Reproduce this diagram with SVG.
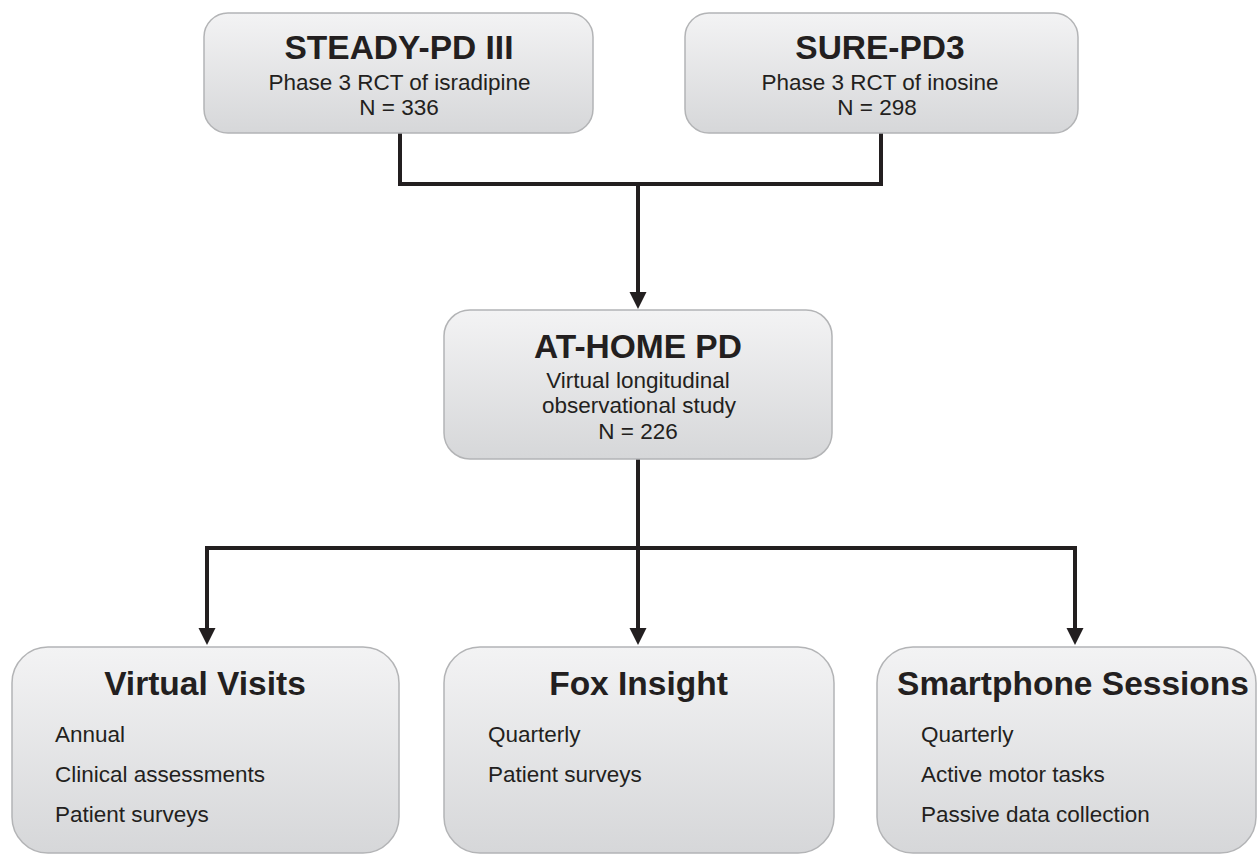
<svg xmlns="http://www.w3.org/2000/svg" width="1257" height="854" viewBox="0 0 1257 854">
<defs>
<linearGradient id="g" x1="0" y1="0" x2="0" y2="1">
<stop offset="0" stop-color="#f3f3f4"/>
<stop offset="1" stop-color="#d6d7d9"/>
</linearGradient>
<marker id="ah" markerUnits="userSpaceOnUse" markerWidth="18" markerHeight="18" refX="2" refY="8.5" orient="auto">
<path d="M0,0 L17,8.5 L0,17 z" fill="#231f20"/>
</marker>
</defs>
<style>
.box{fill:url(#g);stroke:#b3b4b6;stroke-width:1.5}
.t{font-family:"Liberation Sans",Arial,sans-serif;font-weight:bold;font-size:33.5px;fill:#231f20;text-anchor:middle}
.s{font-family:"Liberation Sans",Arial,sans-serif;font-size:22.5px;fill:#231f20;text-anchor:middle}
.i{font-family:"Liberation Sans",Arial,sans-serif;font-size:22.5px;fill:#231f20}
.c{fill:none;stroke:#231f20;stroke-width:4;stroke-linejoin:miter}
</style>
<rect width="1257" height="854" fill="#ffffff"/>
<g id="connectors">
<path class="c" d="M400,133 V184 H881 V133"/>
<path class="c" d="M638,184 V294" marker-end="url(#ah)"/>
<path class="c" d="M638,459 V548"/>
<path class="c" d="M207,548 H1075"/>
<path class="c" d="M207,546 V630" marker-end="url(#ah)"/>
<path class="c" d="M638,546 V630" marker-end="url(#ah)"/>
<path class="c" d="M1075,546 V630" marker-end="url(#ah)"/>
</g>
<g id="steady">
<rect class="box" x="204" y="13" width="389" height="120" rx="24"/>
<text class="t" x="399" y="59">STEADY-PD III</text>
<text class="s" x="399.5" y="90">Phase 3 RCT of isradipine</text>
<text class="s" x="399" y="115">N = 336</text>
</g>
<g id="sure">
<rect class="box" x="685" y="13" width="393" height="120" rx="24"/>
<text class="t" x="880" y="59">SURE-PD3</text>
<text class="s" x="880" y="90">Phase 3 RCT of inosine</text>
<text class="s" x="877" y="115">N = 298</text>
</g>
<g id="athome">
<rect class="box" x="444" y="310" width="388" height="149" rx="26"/>
<text class="t" x="638" y="358">AT-HOME PD</text>
<text class="s" x="638" y="388">Virtual longitudinal</text>
<text class="s" x="639" y="413">observational study</text>
<text class="s" x="638" y="439">N = 226</text>
</g>
<g id="virtual">
<rect class="box" x="12" y="647" width="387" height="206" rx="36"/>
<text class="t" x="205" y="695">Virtual Visits</text>
<text class="i" x="55" y="742">Annual</text>
<text class="i" x="55" y="782">Clinical assessments</text>
<text class="i" x="55" y="822">Patient surveys</text>
</g>
<g id="fox">
<rect class="box" x="444" y="647" width="390" height="206" rx="36"/>
<text class="t" x="638.5" y="695">Fox Insight</text>
<text class="i" x="488" y="742">Quarterly</text>
<text class="i" x="488" y="782">Patient surveys</text>
</g>
<g id="smartphone">
<rect class="box" x="877" y="647" width="379" height="206" rx="36"/>
<text class="t" x="1073" y="695">Smartphone Sessions</text>
<text class="i" x="921" y="742">Quarterly</text>
<text class="i" x="921" y="782">Active motor tasks</text>
<text class="i" x="921" y="822">Passive data collection</text>
</g>
</svg>
